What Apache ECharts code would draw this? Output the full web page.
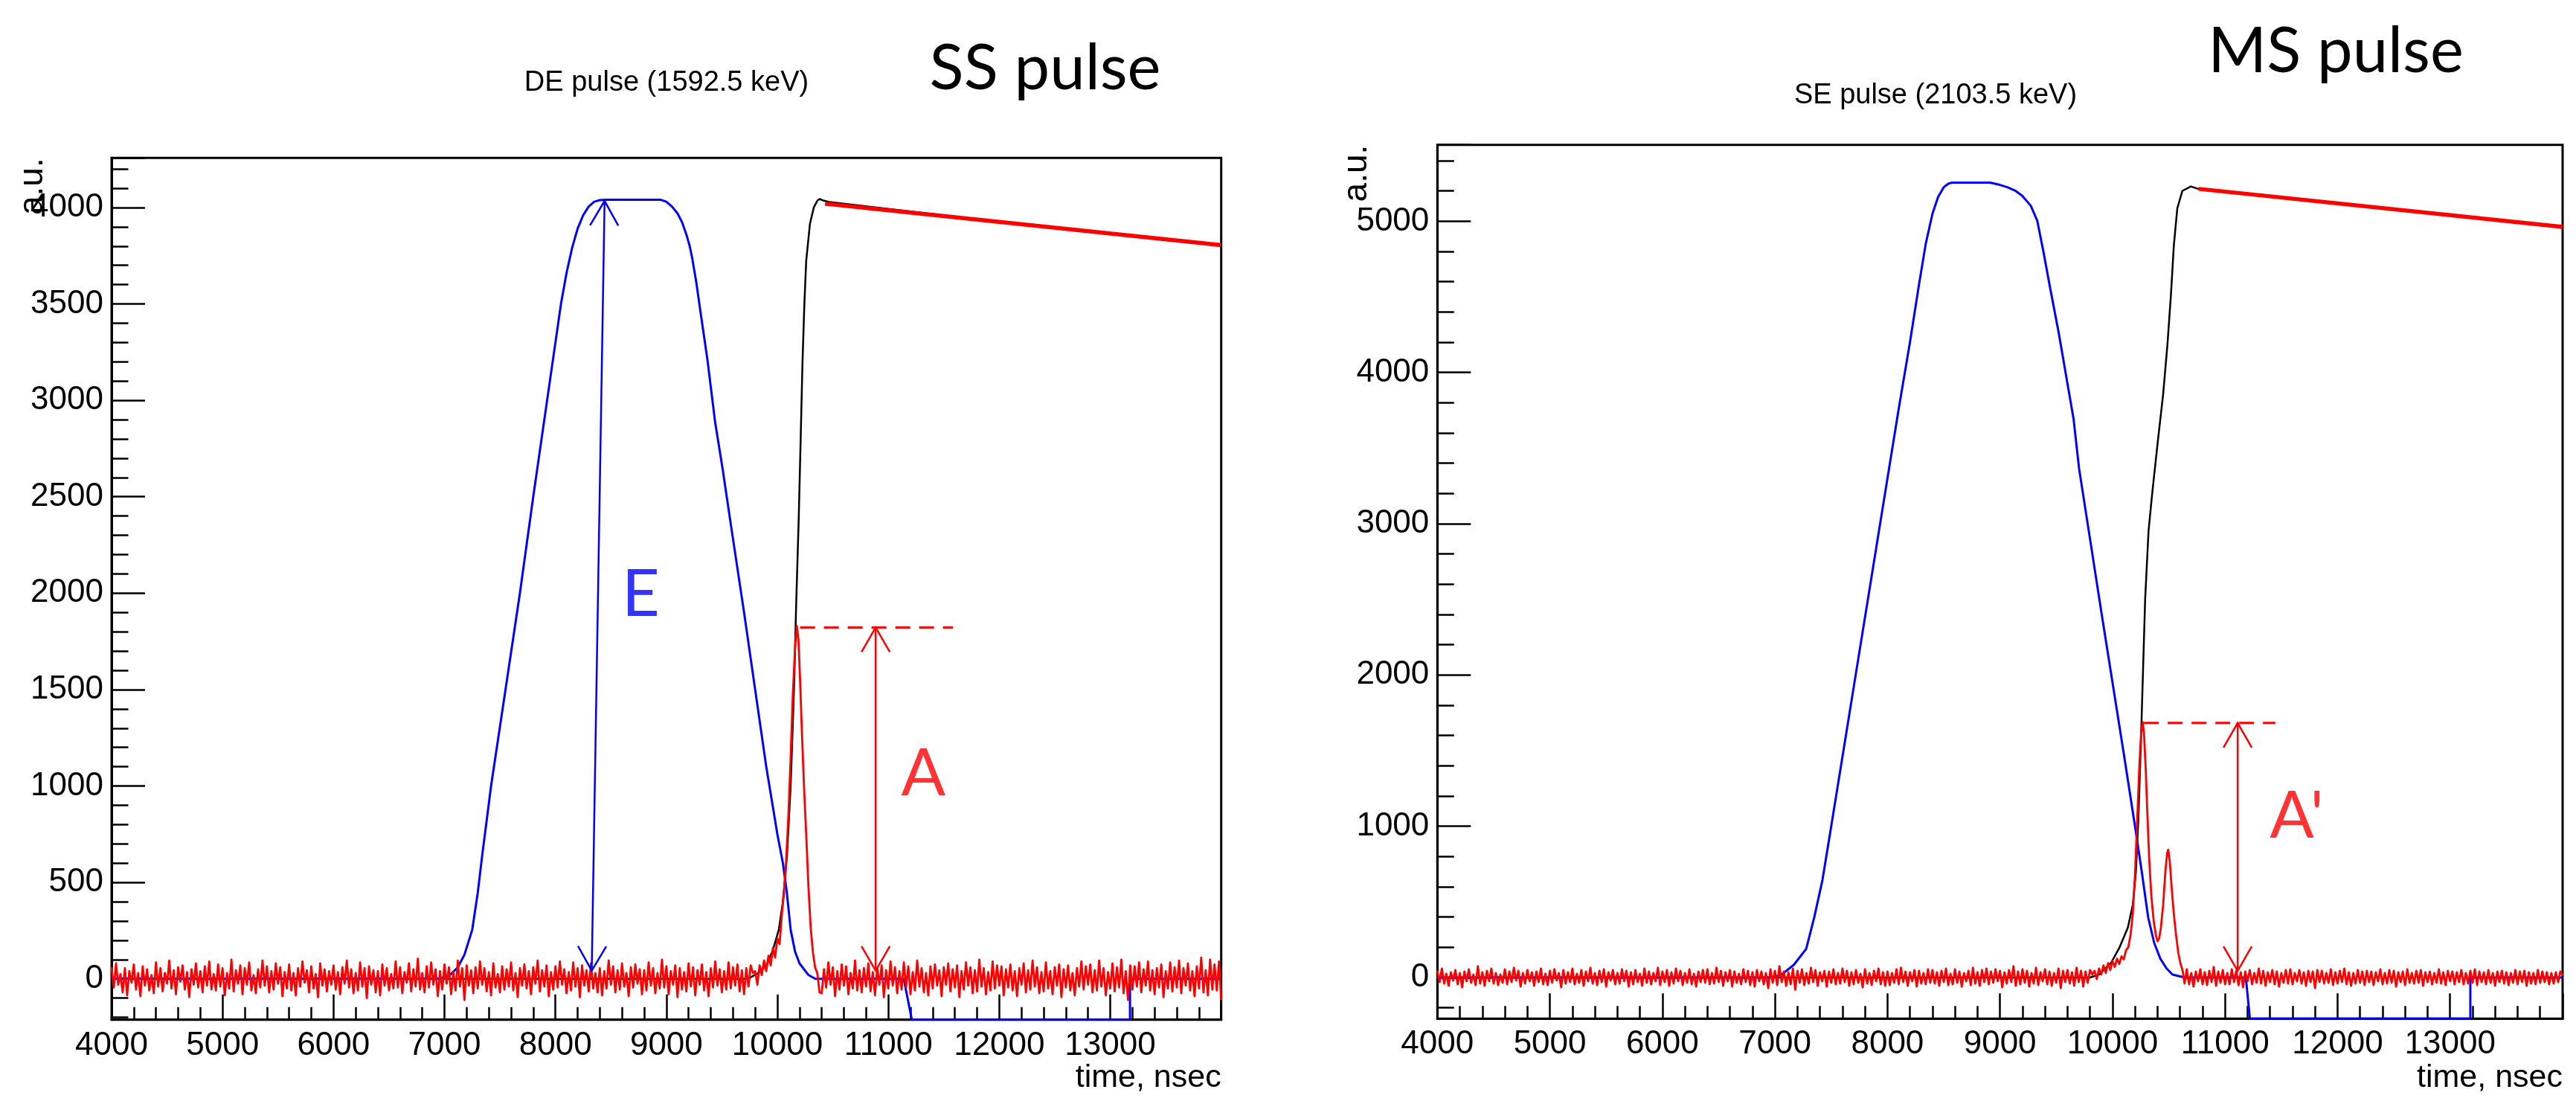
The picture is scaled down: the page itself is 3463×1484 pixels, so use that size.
<!DOCTYPE html>
<html><head><meta charset="utf-8">
<script src="https://cdn.jsdelivr.net/npm/echarts@6/dist/echarts.min.js"></script>
<style>html,body{margin:0;padding:0;background:#fff}#c{width:3463px;height:1484px}</style>
</head><body><div id="c"></div>
<script>
// ---------------- DATA ----------------
const xTicks = [4000,5000,6000,7000,8000,9000,10000,11000,12000,13000];
const yTicksLeft = [0,500,1000,1500,2000,2500,3000,3500,4000];
const yTicksRight = [0,1000,2000,3000,4000,5000];

// ---- Left panel (DE pulse) ----
const blueLeft = [[4000,0],[6900,0],[6960,2],[7050,20],[7120,60],[7180,125],[7250,254],[7300,446],[7340,640],[7380,820],[7420,1000],[7550,1500],[7680,2000],[7800,2500],[7925,3000],[8050,3500],[8100,3660],[8150,3790],[8200,3890],[8250,3960],[8300,4005],[8350,4030],[8400,4038],[8460,4040],[8950,4040],[9000,4030],[9050,4005],[9100,3970],[9140,3925],[9180,3860],[9210,3800],[9233,3736],[9270,3610],[9302,3480],[9370,3210],[9439,2888],[9507,2644],[9576,2374],[9700,1900],[9800,1500],[9900,1100],[10000,750],[10050,600],[10085,450],[10120,254],[10160,140],[10200,80],[10280,20],[10342,0],[11139,0],[11212,-212],[13178,-212],[13178,0],[14000,0]];
const blackLeft = [[4000,0],[9700,0],[9760,8],[9830,30],[9905,74],[9960,150],[10013,254],[10050,400],[10087,640],[10120,1000],[10150,1500],[10170,1950],[10192,2374],[10209,2772],[10226,3184],[10243,3492],[10260,3723],[10294,3916],[10329,4001],[10360,4035],[10381,4044],[10420,4035],[10467,4029],[12000,3925],[14000,3805]];
const fitLeft = [[10430,4020],[14000,3805]];
// red trace sampled every 20 ns before and after the pulse
const redLeftPre = [
60,-45,80,-30,25,-70,55,-85,40,-20,75,-55,30,-90,65,-35,50,-60,20,-75,
85,-40,55,-65,30,-25,95,-50,45,-80,60,-15,70,-55,35,-95,50,-30,80,-45,
40,-70,65,-35,90,-55,25,-60,75,-40,55,-85,30,-50,100,-65,45,-25,70,-80,
55,-30,85,-60,20,-75,50,-45,95,-35,65,-70,40,-55,80,-25,60,-90,35,-50,
75,-60,30,-85,55,-40,90,-20,45,-70,65,-50,25,-95,80,-35,50,-65,40,-30,
70,-55,35,-80,60,-25,95,-45,50,-75,30,-60,85,-40,55,-100,65,-30,45,-70,
40,-85,75,-35,55,-60,25,-50,90,-45,60,-75,35,-20,80,-65,50,-40,105,-55,
30,-70,65,-45,85,-30,50,-90,40,-55,75,-25,60,-80,35,-60,95,-40,55,-110,
70,-35,45,-75,60,-50,90,-30,55,-65,35,-85,80,-45,25,-70,65,-55,50,-40,
85,-60,30,-95,55,-35,75,-50,40,-80,60,-25,95,-65,45,-40,70,-90,35,-55,
65,-45,90,-30,50,-75,35,-60,85,-40,55,-95,70,-35,45,-65,80,-50,30,-70,
55,-85,40,-50,95,-30,65,-70,45,-55,80,-40,30,-90,60,-45,75,-25,50,-80,
45,-60,85,-35,55,-75,30,-50,100,-45,65,-80,40,-30,70,-95,55,-55,35,-65,
80,-40,60,-85,45,-30,75,-60,35,-90,55,-45,90,-35,50,-70,40,-55,85,-50,
60,-35,75,-65,45,-80,55,-40,70,30];
const redLeftPulse = [[9800,40],[9820,-30],[9840,70],[9860,20],[9880,95],[9900,40],[9920,120],[9940,70],[9960,160],[9980,110],[10000,210],[10020,180],[10040,330],[10060,450],[10080,620],[10100,850],[10120,1150],[10140,1480],[10160,1720],[10175,1830],[10190,1760],[10205,1550],[10220,1300],[10240,1000],[10260,750],[10280,480],[10300,270],[10320,140],[10340,60],[10360,30],[10380,-70]];
const redLeftPost = [
-75,50,-45,85,-30,60,-90,40,-55,75,-35,65,-80,30,-50,95,-60,45,-70,55,
-40,80,-65,35,-85,55,-30,70,-95,45,-50,90,-35,60,-75,40,-55,85,-45,65,
-80,35,-60,95,-40,55,-70,30,-85,65,-50,75,-35,45,-90,60,-30,80,-65,50,
-45,70,-95,40,-55,85,-35,60,-75,45,-65,100,-40,55,-80,35,-60,90,-50,70,
-35,65,-85,50,-45,75,-60,40,-90,55,-30,80,-70,45,-55,95,-40,60,-75,35,
-65,85,-50,40,-80,60,-35,75,-95,50,-45,70,-60,30,-85,55,-40,90,-55,65,
-30,75,-70,45,-60,95,-40,55,-85,35,-50,80,-65,60,-45,100,-75,40,-110,70,
-55,65,-40,85,-70,50,-35,90,-60,45,-80,55,-45,75,-95,40,-50,85,-65,60,
-45,95,-75,55,-35,80,-60,40,-90,65,-50,110,-70,45,-85,100,-55,75,-60,90,
-110];
const arrowEBlue = [[8327,42,8443,4034]];
const arrowALeft = [[10886,42,10886,1822]];
const dashLeft = [[10205,1822],[11582,1822]];
const labelsLeftBlue = [{value:[8769,1990], name:'E'}];
const labelsLeftRed = [{value:[11316,1062], name:'A'}];

// ---- Right panel (SE pulse) ----
const blueRight = [[4000,0],[6950,0],[7000,5],[7061,20],[7169,85],[7278,190],[7350,400],[7422,644],[7500,1000],[7600,1460],[7700,1920],[7800,2380],[7900,2840],[8000,3300],[8100,3760],[8200,4200],[8280,4580],[8340,4850],[8400,5050],[8450,5160],[8500,5225],[8540,5248],[8572,5255],[8913,5255],[9000,5240],[9065,5225],[9140,5200],[9198,5168],[9274,5102],[9331,5004],[9388,4791],[9445,4561],[9521,4266],[9597,3938],[9654,3692],[9703,3364],[9800,2900],[9900,2420],[10000,1950],[10100,1480],[10200,1000],[10260,700],[10317,397],[10370,230],[10425,125],[10480,60],[10533,20],[10642,0],[11185,0],[11221,-272],[13180,-272],[13180,0],[14000,0]];
const blackRight = [[4000,0],[9800,0],[9882,20],[9990,100],[10063,200],[10136,330],[10180,480],[10208,700],[10230,1050],[10250,1500],[10268,1950],[10290,2500],[10320,2950],[10350,3180],[10367,3300],[10405,3560],[10450,3856],[10488,4184],[10519,4512],[10545,4840],[10576,5086],[10621,5201],[10697,5230],[10760,5214],[12000,5117],[14000,4962]];
const fitRight = [[10765,5214],[14000,4962]];
const redRightPre = [
45,-30,60,-40,25,-55,35,-20,50,-45,30,-65,40,-25,55,-35,20,-50,75,-40,
35,-55,45,-25,60,-40,30,-50,20,-35,55,-45,40,-30,65,-20,45,-60,30,-40,
50,-25,35,-55,40,-30,60,-45,25,-50,45,-35,55,-20,30,-65,50,-40,35,-30,
60,-45,25,-35,50,-55,40,-25,65,-40,30,-50,45,-30,55,-60,35,-20,50,-45,
30,-40,55,-25,45,-60,35,-45,50,-30,25,-55,60,-35,40,-45,30,-25,65,-50,
40,-30,50,-55,35,-40,60,-25,45,-50,30,-35,55,-45,25,-60,40,-30,50,-35,
55,-45,30,-40,65,-30,45,-55,35,-25,50,-60,40,-35,25,-45,55,-30,45,-50,
35,-60,50,-25,40,-45,30,-70,55,-35,45,-50,75,-30,40,-55,35,-45,60,-80,
45,-35,55,-50,30,-40,65,-30,50,-55,35,-25,45,-60,40,-35,55,-45,30,-40,
60,-30,45,-55,35,-45,50,-35,25,-65,55,-40,30,-50,45,-25,60,-45,35,-55,
40,-50,30,-35,55,-45,65,-30,40,-55,35,-25,50,-60,45,-40,30,-45,55,-35,
50,-40,35,-55,45,-30,60,-50,25,-45,55,-35,40,-60,30,-25,45,-50,65,-40,
35,-55,50,-30,60,-45,40,-35,55,-25,45,-65,35,-40,50,-30,75,-55,40,-45,
55,-35,45,-60,30,-40,65,-50,35,-25,55,-45,40,-55,30,-35,60,-70,45,-30,
50,-40,35,-55,65,-30,45,-60,40,-35,50,20];
const redRightPulse = [[9840,45],[9860,-10],[9880,60],[9900,20],[9920,80],[9940,30],[9960,95],[9980,50],[10000,110],[10020,70],[10040,125],[10060,90],[10080,140],[10100,120],[10120,180],[10140,200],[10160,280],[10180,420],[10200,680],[10220,1050],[10240,1420],[10255,1620],[10268,1690],[10280,1610],[10295,1380],[10310,1080],[10325,800],[10345,540],[10365,380],[10385,280],[10400,240],[10415,260],[10430,330],[10450,480],[10470,700],[10485,820],[10495,845],[10510,760],[10525,600],[10545,420],[10565,280],[10585,160],[10605,90],[10625,40]];
const redRightPost = [
-40,55,-45,30,-60,40,-25,55,-45,35,-50,45,-30,70,-55,40,-35,50,-45,30,
-45,55,-30,45,-50,35,-65,40,-25,50,-45,30,-35,60,-40,45,-55,35,-30,50,
-45,40,-60,30,-35,50,-40,55,-45,30,-25,50,-40,35,-55,45,-30,40,-70,50,
-30,45,-40,30,-35,55,-50,35,-40,45,-30,60,-45,35,-55,30,-40,50,-35,40,
-50,45,-30,40,-50,35,-25,55,-45,30,-40,50,-35,45,-60,35,-30,40,-50,55,
-35,30,-40,45,-35,50,-55,35,-30,40,-45,30,-35,55,-40,35,-50,45,-25,40,
-45,35,-30,50,-45,30,-40,45,-35,55,-50,40,-30,35,-45,50,-35,30,-55,40,
-30,45,-40,35,-50,30,-35,50,-45,40,-30,45,-55,35,-40,30,-45,50,-35,40,
-30,35,-45,30,-40,35,-30,40,15];
const arrowARight = [[11112,44,11112,1683]];
const dashRight = [[10279,1683],[11447,1683]];
const labelsRightRed = [{value:[11637,1064], name:"A'"}];

// ---------------- BUILD ----------------
const SAMPLE = 20;
function sampled(t0, vals){ return vals.map((v,i)=>[t0+i*SAMPLE, v]); }
const redLeft = sampled(4000, redLeftPre).concat(redLeftPulse, sampled(10400, redLeftPost));
const redRight = sampled(4000, redRightPre).concat(redRightPulse, sampled(10640, redRightPost));

const FONT = '"Liberation Sans", Arial, Helvetica, sans-serif';
const CAL = 'Lato, "Open Sans", sans-serif';

function xAxis(gi){
  return {type:'value', gridIndex:gi, min:4000, max:14000, interval:1000,
    axisLine:{show:true, onZero:false, lineStyle:{color:'#000', width:3}},
    axisTick:{show:true, inside:true, length:34, lineStyle:{color:'#000', width:2.5}},
    minorTick:{show:true, splitNumber:5, length:17, lineStyle:{color:'#000', width:2.5}},
    splitLine:{show:false}, minorSplitLine:{show:false},
    axisLabel:{color:'#000', fontSize:44, fontFamily:FONT, margin:13,
      formatter: v => (xTicks.indexOf(v) >= 0 ? String(v) : '')}};
}
function yAxis(gi, min, max, step, ticks){
  return {type:'value', gridIndex:gi, min:min, max:max, splitNumber:Math.round((max-min)/step), minInterval:step, maxInterval:step,
    axisLine:{show:true, onZero:false, lineStyle:{color:'#000', width:3}},
    axisTick:{show:true, inside:true, length:45, lineStyle:{color:'#000', width:2.5}},
    minorTick:{show:true, splitNumber:5, length:22.5, lineStyle:{color:'#000', width:2.5}},
    splitLine:{show:false}, minorSplitLine:{show:false},
    axisLabel:{color:'#000', fontSize:44, fontFamily:FONT, margin:11,
      formatter: v => (ticks.indexOf(v) >= 0 ? String(v) : '')}};
}
function line(gi, data, color, width, z, dash){
  return {type:'line', xAxisIndex:gi, yAxisIndex:gi, data:data, showSymbol:false, symbol:'none', smooth:false,
    sampling:null, silent:true, z:z, clip:true,
    lineStyle:{color:color, width:width, type: dash || 'solid', cap:'butt', join:'round'}};
}
function head(tip, from, color){
  const dx=from[0]-tip[0], dy=from[1]-tip[1], L=Math.hypot(dx,dy)||1, ux=dx/L, uy=dy/L, len=33, hw=19;
  const bx=tip[0]+ux*len, by=tip[1]+uy*len;
  return {type:'polyline', shape:{points:[[bx-uy*hw, by+ux*hw],[tip[0],tip[1]],[bx+uy*hw, by-ux*hw]]},
    style:{stroke:color, lineWidth:2.5, fill:null}};
}
function arrows(gi, data, color){
  return {type:'custom', xAxisIndex:gi, yAxisIndex:gi, data:data, encode:{x:[0,2], y:[1,3]}, z:20, silent:true,
    renderItem:function(params, api){
      const a=api.coord([api.value(0), api.value(1)]), b=api.coord([api.value(2), api.value(3)]);
      return {type:'group', children:[
        {type:'line', shape:{x1:a[0], y1:a[1], x2:b[0], y2:b[1]}, style:{stroke:color, lineWidth:2.5}},
        head(a,b,color), head(b,a,color)]};
    }};
}
function labels(gi, data, color){
  return {type:'scatter', xAxisIndex:gi, yAxisIndex:gi, data:data, symbolSize:0, z:25, silent:true,
    label:{show:true, position:'inside', formatter:'{b}', color:color, fontSize:88, fontFamily:CAL}};
}

const chart = echarts.init(document.getElementById('c'), null, {renderer:'canvas'});
chart.setOption({
  animation:false,
  backgroundColor:'#fff',
  grid:[
    {left:150, top:212.3, width:1491.7, height:1158.4, show:true, borderColor:'#000', borderWidth:3, backgroundColor:'transparent', containLabel:false, outerBoundsMode:'none'},
    {left:1932.3, top:194.7, width:1512.7, height:1174.6, show:true, borderColor:'#000', borderWidth:3, backgroundColor:'transparent', containLabel:false, outerBoundsMode:'none'}
  ],
  xAxis:[xAxis(0), xAxis(1)],
  yAxis:[yAxis(0,-212,4257,500,yTicksLeft), yAxis(1,-272,5505,1000,yTicksRight)],
  series:[
    line(0, blackLeft, '#000000', 2.5, 2),
    line(0, blueLeft, '#0000ff', 3, 3),
    line(0, redLeft, '#ff0000', 2.8, 4),
    line(0, fitLeft, '#ff0000', 5.5, 5),
    line(0, dashLeft, '#ff0000', 3, 6, [20,12]),
    arrows(0, arrowEBlue, '#0000ff'),
    arrows(0, arrowALeft, '#ff0000'),
    labels(0, labelsLeftBlue, '#0000ff'),
    labels(0, labelsLeftRed, '#ff0000'),
    line(1, blackRight, '#000000', 2.5, 2),
    line(1, blueRight, '#0000ff', 3, 3),
    line(1, redRight, '#ff0000', 2.8, 4),
    line(1, fitRight, '#ff0000', 5.5, 5),
    line(1, dashRight, '#ff0000', 3, 6, [20,12]),
    arrows(1, arrowARight, '#ff0000'),
    labels(1, labelsRightRed, '#ff0000')
  ],
  graphic:[
    {type:'text', x:896, y:112, style:{text:'DE pulse (1592.5 keV)', fontSize:38, fontFamily:FONT, fill:'#000', align:'center', verticalAlign:'middle'}},
    {type:'text', x:1405, y:93, style:{text:'SS pulse', fontSize:85, fontFamily:CAL, fill:'#000', align:'center', verticalAlign:'middle'}},
    {type:'text', x:2602, y:129, style:{text:'SE pulse (2103.5 keV)', fontSize:38, fontFamily:FONT, fill:'#000', align:'center', verticalAlign:'middle'}},
    {type:'text', x:3140, y:70, style:{text:'MS pulse', fontSize:85, fontFamily:CAL, fill:'#000', align:'center', verticalAlign:'middle'}},
    {type:'text', x:44, y:212.3, rotation:Math.PI/2, style:{text:'a.u.', fontSize:46, fontFamily:FONT, fill:'#000', align:'right', verticalAlign:'middle'}},
    {type:'text', x:1824, y:194.7, rotation:Math.PI/2, style:{text:'a.u.', fontSize:46, fontFamily:FONT, fill:'#000', align:'right', verticalAlign:'middle'}},
    {type:'text', x:1641.7, y:1449, style:{text:'time, nsec', fontSize:43, fontFamily:FONT, fill:'#000', align:'right', verticalAlign:'middle'}},
    {type:'text', x:3445, y:1449, style:{text:'time, nsec', fontSize:43, fontFamily:FONT, fill:'#000', align:'right', verticalAlign:'middle'}}
  ]
});
</script></body></html>
